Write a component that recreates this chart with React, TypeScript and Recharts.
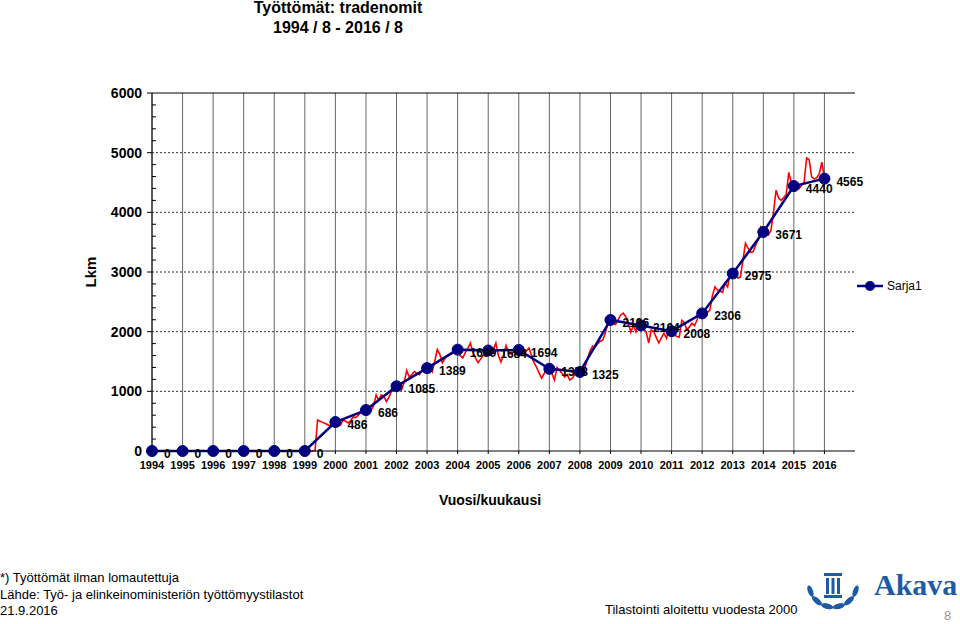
import { LabelList, Line, LineChart, ReferenceLine, XAxis, YAxis } from "recharts"

const years = [
  1994, 1995, 1996, 1997, 1998, 1999, 2000, 2001, 2002, 2003, 2004, 2005,
  2006, 2007, 2008, 2009, 2010, 2011, 2012, 2013, 2014, 2015, 2016,
]

// August value of each year (Sarja1)
const augustValues = [
  0, 0, 0, 0, 0, 0, 486, 686, 1085, 1389, 1699, 1684,
  1694, 1378, 1325, 2196, 2104, 2008, 2306, 2975, 3671, 4440, 4565,
]

// monthly values, 1999/8 -> 2016/8
const monthlyStart = 60 // months after 1994/8
const monthlyValues = [
  0, 0, 0, 0, 0, // 1999 Aug-Dec
  520, 500, 480, 460, 440, 420, 470, 486, 420, 430, 520, 500, // 2000
  470, 510, 570, 560, 600, 640, 700, 686, 700, 680, 760, 940, // 2001
  850, 940, 920, 830, 900, 1000, 1100, 1085, 1120, 1030, 1150, 1350, // 2002
  1240, 1280, 1330, 1300, 1280, 1350, 1420, 1389, 1420, 1330, 1500, 1700, // 2003
  1620, 1480, 1550, 1600, 1620, 1660, 1720, 1699, 1600, 1560, 1650, 1720, // 2004
  1810, 1650, 1560, 1480, 1540, 1600, 1720, 1684, 1620, 1700, 1810, 1600, // 2005
  1490, 1600, 1770, 1650, 1620, 1660, 1720, 1694, 1640, 1610, 1680, 1725, // 2006
  1600, 1475, 1400, 1305, 1220, 1300, 1420, 1378, 1300, 1190, 1400, 1350, // 2007
  1300, 1240, 1280, 1190, 1220, 1280, 1350, 1325, 1330, 1400, 1550, 1680, // 2008
  1760, 1740, 1800, 1840, 1860, 1980, 2150, 2196, 2150, 2120, 2200, 2280, // 2009
  2310, 2250, 2140, 1990, 2110, 2000, 2150, 2104, 2050, 1995, 1810, 2030, // 2010
  2000, 1900, 1810, 1900, 1975, 1890, 2060, 2008, 1950, 1920, 1910, 2190, // 2011
  2150, 2030, 2080, 2140, 2100, 2200, 2350, 2306, 2330, 2320, 2360, 2600, // 2012
  2750, 2700, 2680, 2660, 2810, 2750, 3000, 2975, 2950, 2900, 2915, 3200, // 2013
  3480, 3400, 3330, 3340, 3450, 3550, 3750, 3671, 3650, 3620, 3700, 4000, // 2014
  4370, 4240, 4200, 4250, 4300, 4670, 4500, 4440, 4420, 4400, 4450, 4500, // 2015
  4910, 4880, 4590, 4560, 4580, 4650, 4840, 4565, // 2016 Jan-Aug
]

const yAllTicks = Array.from({ length: 31 }, (_, i) => i * 200)
const gridValues = [1000, 2000, 3000, 4000, 5000]
const xTicks = years.map((_, i) => i * 12)

const data = Array.from({ length: 265 }, (_, m) => ({
  m,
  yearly: m % 12 === 0 ? augustValues[m / 12] : null,
  monthly: m >= monthlyStart ? monthlyValues[m - monthlyStart] : null,
}))

const font = "'Liberation Sans', Arial, sans-serif"

const renderLabel = (props: any) => {
  const { x, y, value } = props
  if (value === null || value === undefined) return null
  return (
    <text x={x + 12} y={y + 3} dominantBaseline="central" fontSize={12} fontWeight="bold" fill="#000" fontFamily={font}>
      {value}
    </text>
  )
}

// major ticks point out with a label, minor ticks point in
const YTick = (props: any) => {
  const { x, y, payload } = props
  const axisX = x + 10
  const v = payload.value
  if (v % 1000 !== 0) {
    return <line x1={axisX} x2={axisX + 4} y1={y} y2={y} stroke="#000" />
  }
  return (
    <g>
      <line x1={axisX - 5} x2={axisX} y1={y} y2={y} stroke="#000" />
      <text x={axisX - 10} y={y} textAnchor="end" dominantBaseline="central" fontSize={14} fontWeight="bold" fill="#000" fontFamily={font}>
        {v}
      </text>
    </g>
  )
}

function AkavaLogo() {
  const leaves = [0, 1, 2, 3, 4]
  return (
    <svg width={70} height={64} style={{ position: "absolute", left: 800, top: 553 }}>
      {leaves.map((i) => {
        const a = (200 + i * 28) * (Math.PI / 180)
        const cx = 33 + Math.cos(a) * 24
        const cy = 30 - Math.sin(a) * 24
        return <ellipse key={"l" + i} cx={cx} cy={cy} rx={6} ry={2.6} fill="#1d5ba6" transform={`rotate(${-i * 28 + 70} ${cx} ${cy})`} />
      })}
      {leaves.map((i) => {
        const a = (-20 - i * 28) * (Math.PI / 180)
        const cx = 33 + Math.cos(a) * 24
        const cy = 30 - Math.sin(a) * 24
        return <ellipse key={"r" + i} cx={cx} cy={cy} rx={6} ry={2.6} fill="#1d5ba6" transform={`rotate(${i * 28 - 70} ${cx} ${cy})`} />
      })}
      <rect x={24} y={20} width={18} height={3} fill="#1d5ba6" />
      <rect x={26} y={25} width={3} height={16} fill="#1d5ba6" />
      <rect x={31.5} y={25} width={3} height={16} fill="#1d5ba6" />
      <rect x={37} y={25} width={3} height={16} fill="#1d5ba6" />
      <rect x={24} y={42} width={18} height={3} fill="#1d5ba6" />
    </svg>
  )
}

export default function App() {
  return (
    <div style={{ position: "absolute", left: 0, top: 0, width: 960, height: 624, background: "#fff", fontFamily: font, overflow: "hidden" }}>
      <div style={{ position: "absolute", left: 180, width: 316, top: -2, textAlign: "center", fontWeight: "bold", fontSize: 16, lineHeight: "20px" }}>
        Työttömät: tradenomit
        <br />
        1994 / 8 - 2016 / 8
      </div>

      <LineChart width={960} height={624} data={data} margin={{ top: 93, right: 105, bottom: 143, left: 92 }}>
        {gridValues.map((v) => (
          <ReferenceLine key={"h" + v} y={v} stroke="#333" strokeDasharray="2 2" />
        ))}
        {xTicks.map((t) => (
          <ReferenceLine key={t} x={t} stroke="#666" />
        ))}
        <XAxis
          type="number"
          dataKey="m"
          domain={[0, 276]}
          ticks={xTicks}
          interval={0}
          tickFormatter={(m: number) => String(years[m / 12] ?? "")}
          height={30}
          tickSize={3}
          tickMargin={7}
          stroke="#000"
          tick={{ fontSize: 11, fontWeight: "bold", fill: "#000", fontFamily: font }}
        />
        <YAxis
          domain={[0, 6000]}
          ticks={yAllTicks}
          interval={0}
          width={60}
          tickSize={5}
          tickMargin={5}
          tickLine={false}
          stroke="#000"
          tick={<YTick />}
        />
        <ReferenceLine y={6000} stroke="#000" />
        <Line dataKey="monthly" stroke="#ff0000" strokeWidth={1.6} dot={false} isAnimationActive={false} />
        <Line
          dataKey="yearly"
          connectNulls
          stroke="#000080"
          strokeWidth={2.5}
          dot={{ r: 5.5, fill: "#000080", stroke: "#000080", strokeWidth: 1 }}
          isAnimationActive={false}
        >
          <LabelList dataKey="yearly" content={renderLabel} />
        </Line>
      </LineChart>

      <div style={{ position: "absolute", left: 90, top: 272, transform: "translate(-50%, -50%) rotate(-90deg)", fontWeight: "bold", fontSize: 15 }}>
        Lkm
      </div>
      <div style={{ position: "absolute", left: 490, top: 500, transform: "translate(-50%, -50%)", fontWeight: "bold", fontSize: 14 }}>
        Vuosi/kuukausi
      </div>

      <div style={{ position: "absolute", left: 856, top: 279, display: "flex", alignItems: "center", fontSize: 12 }}>
        <svg width={28} height={14}>
          <line x1={1} y1={7} x2={27} y2={7} stroke="#000080" strokeWidth={2.5} />
          <circle cx={14} cy={7} r={5} fill="#000080" />
        </svg>
        <span style={{ marginLeft: 3 }}>Sarja1</span>
      </div>

      <div style={{ position: "absolute", left: 0, top: 570, fontSize: 13, lineHeight: "16.5px" }}>
        *) Työttömät ilman lomautettuja
        <br />
        Lähde: Työ- ja elinkeinoministeriön työttömyystilastot
        <br />
        21.9.2016
      </div>
      <div style={{ position: "absolute", left: 605, top: 602, fontSize: 13 }}>Tilastointi aloitettu vuodesta 2000</div>

      <AkavaLogo />
      <div style={{ position: "absolute", left: 874, top: 568, fontSize: 30, fontWeight: "bold", color: "#1d5ba6", fontFamily: "'Liberation Serif', serif" }}>
        Akava
      </div>
      <div style={{ position: "absolute", left: 944, top: 608, fontSize: 13, color: "#999" }}>8</div>
    </div>
  )
}
